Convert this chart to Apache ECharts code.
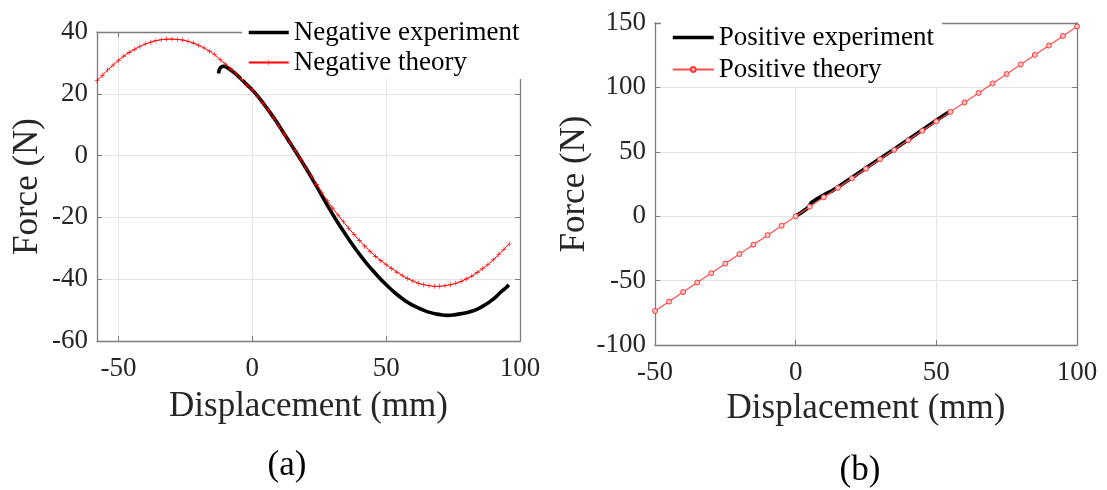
<!DOCTYPE html>
<html><head><meta charset="utf-8">
<script src="https://cdn.jsdelivr.net/npm/echarts@6/dist/echarts.min.js"></script>
<style>html,body{margin:0;padding:0;background:#fff}#c{width:1107px;height:490px}</style>
</head><body><div id="c"></div><script>
// ---- data ----
const negTheoryX = [-58,-56,-54,-52,-50,-48,-46,-44,-42,-40,-38,-36,-34,-32,-30,-28,-26,-24,-22,-20,-18,-16,-14,-12,-10,-8,-6,-4,-2,0,2,4,6,8,10,12,14,16,18,20,22,24,26,28,30,32,34,36,38,40,42,44,46,48,50,52,54,56,58,60,62,64,66,68,70,72,74,76,78,80,82,84,86,88,90,92,94,96];
const negTheoryY = [24.2,26.0,27.7,29.3,30.8,32.2,33.4,34.4,35.3,36.1,36.7,37.2,37.5,37.7,37.7,37.6,37.4,37.0,36.4,35.7,34.8,33.8,32.7,31.0,29.6,28.0,26.4,24.6,22.8,21.2,19.2,16.9,14.6,12.2,9.4,6.8,4.2,1.6,-1.2,-4.0,-6.6,-9.4,-12.0,-14.6,-17.0,-19.2,-21.4,-23.5,-25.5,-27.5,-29.3,-31.0,-32.6,-34.0,-35.3,-36.5,-37.7,-38.8,-39.8,-40.6,-41.3,-41.8,-42.1,-42.3,-42.3,-42.1,-41.8,-41.3,-40.7,-39.9,-39.0,-37.8,-36.6,-35.3,-33.7,-32.1,-30.3,-28.6];
const negExpX = [-12.6,-12.3,-11.6,-10.6,-9,-7,-5,-3,-1,1,3,5,7,9,11,13,15,17,19,21,23,25,27,29,31,33,35,37,39,41,43,45,47,49,51,53,55,57,59,61,63,65,67,69,71,73,75,77,79,81,83,85,87,89,91,93,95,95.8];
const negExpY = [26.6,27.9,28.7,28.9,28.3,27.0,25.5,23.8,22.1,20.3,18.2,15.9,13.5,11.0,8.3,5.6,2.9,0.2,-2.6,-5.4,-8.4,-11.4,-14.5,-17.5,-20.4,-23.1,-25.7,-28.3,-30.7,-33.0,-35.2,-37.2,-39.1,-40.9,-42.6,-44.2,-45.6,-46.9,-48.0,-48.9,-49.7,-50.4,-50.9,-51.3,-51.6,-51.7,-51.6,-51.3,-51.0,-50.6,-50.1,-49.3,-48.3,-47.1,-45.7,-44.0,-42.6,-41.8];
const posTheoryX = [-50,-45,-40,-35,-30,-25,-20,-15,-10,-5,0,5,10,15,20,25,30,35,40,45,50,55,60,65,70,75,80,85,90,95,100];
const posTheoryY = [-73.6,-66.3,-58.9,-51.5,-44.2,-36.8,-29.4,-22.1,-14.7,-7.4,0,7.4,14.7,22.1,29.4,36.8,44.2,51.5,58.9,66.3,73.6,81.0,88.3,95.7,103.1,110.4,117.8,125.2,132.5,139.9,147.3];
const posExpX = [0,2,4,5,5.6,7,9,11,13,15,17,20,25,30,35,40,45,50,55];
const posExpY = [0,2.8,6.0,8.3,10.6,12.6,15.2,17.6,19.8,22.6,25.6,30.0,37.4,44.8,52.0,59.5,66.9,74.4,81.6];
const leftXTicks = [-50, 0, 50, 100];

const zip = (xs, ys) => xs.map((x, i) => [x, ys[i]]);
const FONT = '"Liberation Serif","Times New Roman",serif';
const AX = '#7c7c7c', GRIDC = '#e4e4e4', TXT = '#262626';
const plus = 'path://M-0.6,-5H0.6V-0.6H5V0.6H0.6V5H-0.6V0.6H-5V-0.6H-0.6Z';
const TICKFS = 27;

function axis(o) {
  const main = o.main;
  return Object.assign({
    type: 'value',
    axisLine: { show: true, onZero: false, lineStyle: { color: AX, width: 1.3 } },
    axisTick: { show: true, inside: true, length: 5, lineStyle: { color: AX, width: 1 } },
    axisLabel: main ? { show: true, fontSize: TICKFS, fontFamily: FONT, color: TXT, margin: 9 } : { show: false },
    splitLine: { show: !!main, lineStyle: { color: GRIDC, width: 1 } },
    nameTextStyle: { fontSize: 35, fontFamily: FONT, color: TXT }
  }, o.rest);
}

const chart = echarts.init(document.getElementById('c'), null, { renderer: 'canvas' });
chart.setOption({
  animation: false,
  backgroundColor: '#fff',
  textStyle: { fontFamily: FONT },
  grid: [
    { left: 97, top: 32, width: 423, height: 309 },
    { left: 655, top: 23, width: 422, height: 322 }
  ],
  xAxis: [
    axis({ main: true, rest: { gridIndex: 0, position: 'bottom', min: -58, max: 100, splitNumber: 3,
      axisLabel: { fontSize: TICKFS, fontFamily: FONT, color: TXT, margin: 14,
        formatter: v => leftXTicks.indexOf(v) >= 0 ? String(v) : '' },
      name: 'Displacement (mm)', nameLocation: 'middle', nameGap: 48 } }),
    axis({ main: false, rest: { gridIndex: 0, position: 'top', min: -58, max: 100, splitNumber: 3 } }),
    axis({ main: true, rest: { gridIndex: 1, position: 'bottom', min: -50, max: 100, interval: 50,
      axisLabel: { fontSize: TICKFS, fontFamily: FONT, color: TXT, margin: 14 },
      name: 'Displacement (mm)', nameLocation: 'middle', nameGap: 45 } }),
    axis({ main: false, rest: { gridIndex: 1, position: 'top', min: -50, max: 100, interval: 50 } })
  ],
  yAxis: [
    axis({ main: true, rest: { gridIndex: 0, position: 'left', min: -60, max: 40, interval: 20,
      name: 'Force (N)', nameLocation: 'middle', nameGap: 52 } }),
    axis({ main: false, rest: { gridIndex: 0, position: 'right', min: -60, max: 40, interval: 20 } }),
    axis({ main: true, rest: { gridIndex: 1, position: 'left', min: -100, max: 150, interval: 50,
      name: 'Force (N)', nameLocation: 'middle', nameGap: 63 } }),
    axis({ main: false, rest: { gridIndex: 1, position: 'right', min: -100, max: 150, interval: 50 } })
  ],
  legend: [
    { data: [{ name: 'Negative experiment', itemStyle: { opacity: 0 }, lineStyle: { width: 3.5, color: '#000' } }, 'Negative theory'],
      orient: 'vertical', left: 242, top: 13,
      padding: [6, 10, 3, 5], itemGap: 3, itemWidth: 40, itemHeight: 6, backgroundColor: '#fff',
      selectedMode: false, z: 10, textStyle: { fontSize: 27, fontFamily: FONT, color: '#000' } },
    { data: [{ name: 'Positive experiment', itemStyle: { opacity: 0 }, lineStyle: { width: 3.5, color: '#000' } }, 'Positive theory'],
      orient: 'vertical', left: 661, top: 20,
      padding: [4, 8, 4, 10], itemGap: 5, itemWidth: 41, itemHeight: 6, backgroundColor: '#fff',
      selectedMode: false, z: 10, textStyle: { fontSize: 27, fontFamily: FONT, color: '#000' } }
  ],
  series: [
    { type: 'line', name: 'Negative experiment', xAxisIndex: 0, yAxisIndex: 0, data: zip(negExpX, negExpY),
      symbol: 'none', smooth: 0.2, lineStyle: { color: '#000', width: 3.6 }, itemStyle: { color: '#000' }, z: 3 },
    { type: 'line', name: 'Negative theory', xAxisIndex: 0, yAxisIndex: 0, data: zip(negTheoryX, negTheoryY),
      symbol: plus, symbolSize: 5, showSymbol: true, lineStyle: { color: '#ff0000', width: 1 },
      itemStyle: { color: '#ff0000' }, z: 4 },
    { type: 'line', name: 'Positive experiment', xAxisIndex: 2, yAxisIndex: 2, data: zip(posExpX, posExpY),
      symbol: 'none', lineStyle: { color: '#000', width: 3.8 }, itemStyle: { color: '#000' }, z: 3 },
    { type: 'line', name: 'Positive theory', xAxisIndex: 2, yAxisIndex: 2, data: zip(posTheoryX, posTheoryY),
      symbol: 'circle', symbolSize: 5, showSymbol: true, lineStyle: { color: '#ff4f4f', width: 1.2 },
      itemStyle: { color: '#ffc4c4', borderColor: '#ff3a3a', borderWidth: 1 }, z: 4 }
  ],
  graphic: [
    { type: 'text', x: 287, y: 466, style: { text: '(a)', font: '35px ' + FONT, fill: '#000', textAlign: 'center', textVerticalAlign: 'middle' } },
    { type: 'text', x: 860, y: 471, style: { text: '(b)', font: '35px ' + FONT, fill: '#000', textAlign: 'center', textVerticalAlign: 'middle' } }
  ]
});
</script></body></html>
